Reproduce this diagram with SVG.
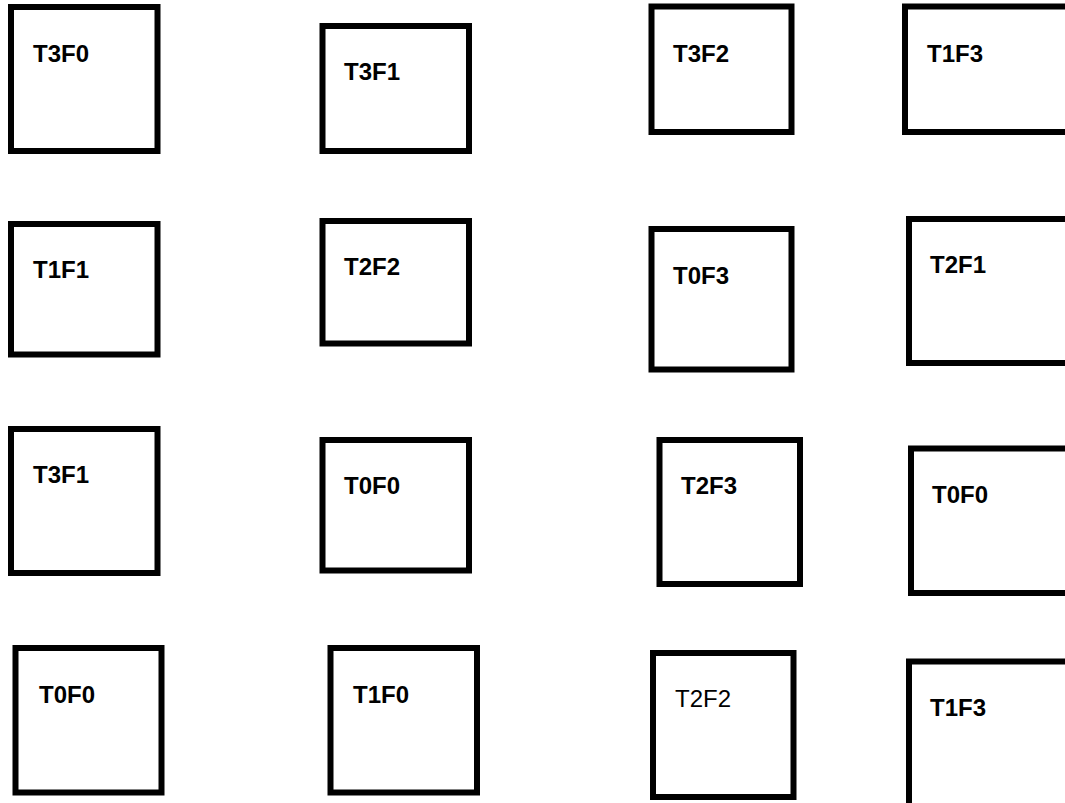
<svg xmlns="http://www.w3.org/2000/svg" width="1065" height="803" viewBox="0 0 1065 803">
<style>
.box{fill:#fff;stroke:#000;stroke-width:6}
.lb{font-family:"Liberation Sans",Arial,sans-serif;font-size:24px;font-weight:bold;fill:#000}
.ln{font-family:"Liberation Sans",Arial,sans-serif;font-size:24px;font-weight:normal;fill:#000}
</style>
<rect width="1065" height="803" fill="#fff"/>
<g id="n1"><rect class="box" x="11" y="7" width="146.5" height="144"/><text class="lb" x="33" y="62">T3F0</text></g>
<g id="n2"><rect class="box" x="322.5" y="26" width="146.5" height="125"/><text class="lb" x="344" y="80">T3F1</text></g>
<g id="n3"><rect class="box" x="651.5" y="6.5" width="140" height="125.5"/><text class="lb" x="673" y="62">T3F2</text></g>
<g id="n4"><rect class="box" x="905" y="6.5" width="170" height="125.5"/><text class="lb" x="927" y="62">T1F3</text></g>
<g id="n5"><rect class="box" x="11" y="224" width="146.5" height="130.5"/><text class="lb" x="33" y="278">T1F1</text></g>
<g id="n6"><rect class="box" x="322.5" y="221" width="146.5" height="122.5"/><text class="lb" x="344" y="275">T2F2</text></g>
<g id="n7"><rect class="box" x="651.5" y="229" width="140" height="140.5"/><text class="lb" x="673" y="284">T0F3</text></g>
<g id="n8"><rect class="box" x="909" y="219" width="170" height="144"/><text class="lb" x="930" y="273">T2F1</text></g>
<g id="n9"><rect class="box" x="11" y="429" width="146.5" height="144"/><text class="lb" x="33" y="483">T3F1</text></g>
<g id="n10"><rect class="box" x="322.5" y="440" width="146.5" height="130.5"/><text class="lb" x="344" y="494">T0F0</text></g>
<g id="n11"><rect class="box" x="659.5" y="440" width="140.5" height="144"/><text class="lb" x="681" y="494">T2F3</text></g>
<g id="n12"><rect class="box" x="911" y="448.5" width="170" height="144.5"/><text class="lb" x="932" y="503">T0F0</text></g>
<g id="n13"><rect class="box" x="15.5" y="648" width="146" height="144.5"/><text class="lb" x="39" y="703">T0F0</text></g>
<g id="n14"><rect class="box" x="330.5" y="648" width="146.5" height="144.5"/><text class="lb" x="353" y="703">T1F0</text></g>
<g id="n15"><rect class="box" x="653" y="653" width="140.5" height="144"/><text class="ln" x="675" y="707">T2F2</text></g>
<g id="n16"><rect class="box" x="909" y="661.5" width="170" height="160"/><text class="lb" x="930" y="716">T1F3</text></g>
<g id="connectors"/>
</svg>
